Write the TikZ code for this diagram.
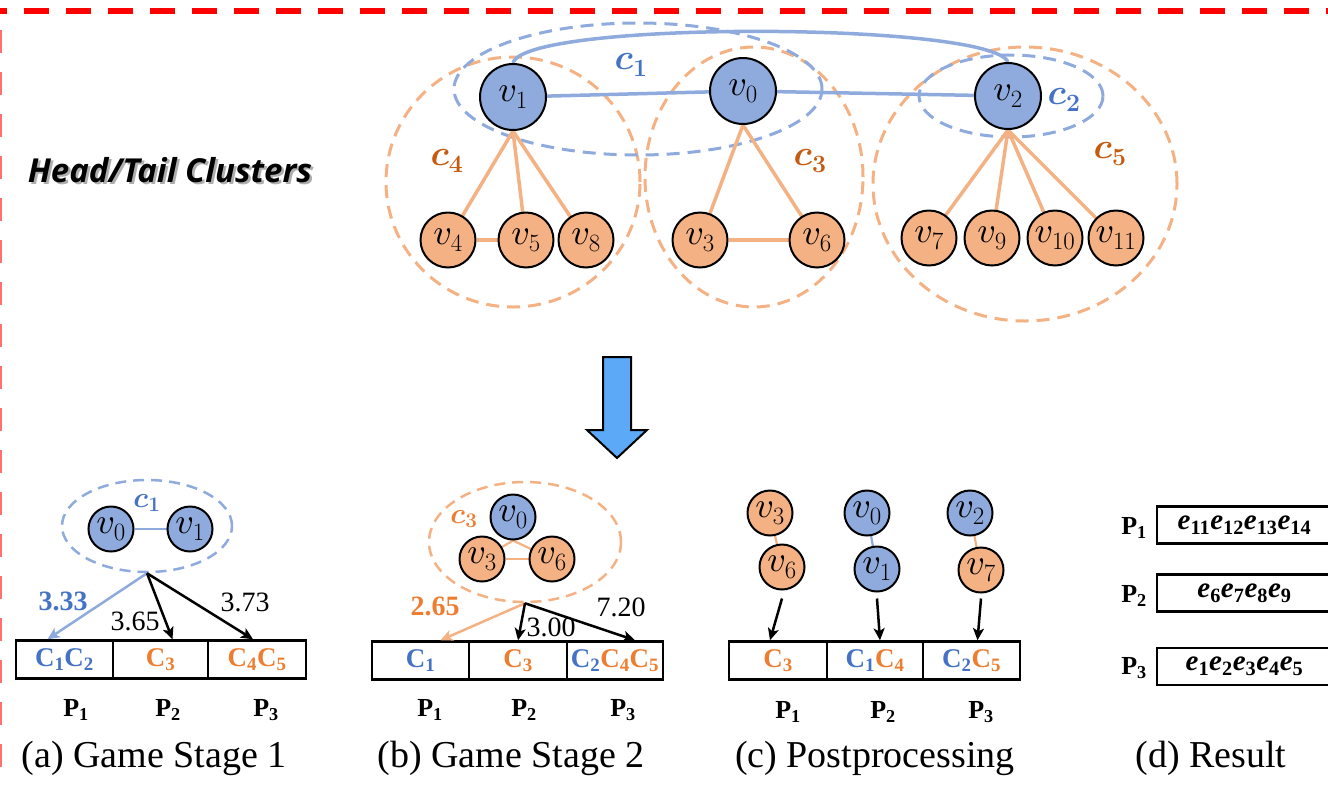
\documentclass[tikz,border=0pt]{standalone}
\usepackage{amsmath}
\usepackage{fontspec}
\setmainfont{Liberation Serif}
\newfontfamily\headfont{Open Sans}
\usetikzlibrary{shapes.geometric,arrows.meta,calc}
% scalable math italic at every size
\DeclareFontShape{OML}{cmm}{m}{it}{<->cmmi10}{}
\DeclareFontShape{OML}{cmm}{b}{it}{<->cmmib10}{}

\definecolor{nblue}{HTML}{8FAADC}
\definecolor{norange}{HTML}{F4B183}
\definecolor{lblue}{HTML}{4472C4}
\definecolor{ldorange}{HTML}{C55A11}
\definecolor{lorange}{HTML}{ED7D31}
\definecolor{bigarrow}{HTML}{5BA9F7}
\definecolor{framered}{HTML}{FF0000}
\definecolor{framelight}{HTML}{FF7070}

\newcommand\vlab[1]{\makebox[0pt]{$v_{#1}$}}
\newcommand\cellC[1]{$\textbf{C}_{\textbf{#1}}$}
\newcommand\eterm[1]{$\textbf{\textit{e}}_{\textbf{#1}}$}
\newcommand\plab[1]{$\textbf{P}_{\textbf{#1}}$}

\pgfdeclarelayer{bg}
\pgfdeclarelayer{mid}
\pgfsetlayers{bg,mid,main}

\tikzset{
  vnode/.style={circle, draw=black, line width=2pt, inner sep=0pt,
    font=\fontsize{36}{42}\selectfont},
  bignode/.style={vnode, minimum size=66pt},
  midnode/.style={vnode, minimum size=55pt},
  smallnode/.style={vnode, minimum size=45pt},
  bfill/.style={fill=nblue},
  ofill/.style={fill=norange},
  bedge/.style={draw=nblue, line width=3.5pt},
  oedge/.style={draw=norange, line width=3.5pt},
  thinb/.style={draw=nblue, line width=2.2pt},
  thino/.style={draw=norange, line width=2.2pt},
  clus/.style={ellipse, inner sep=0pt, line width=3pt, dash pattern=on 13pt off 8pt},
  smallclus/.style={ellipse, inner sep=0pt, line width=2.5pt, dash pattern=on 11pt off 7pt},
  clab/.style={font=\fontsize{36}{42}\selectfont\boldmath},
  sclab/.style={font=\fontsize{29}{34}\selectfont\boldmath},
  cell/.style={rectangle, draw=black, line width=2.5pt, minimum height=38pt,
    inner sep=0pt, font=\fontsize{27}{32}\selectfont},
  rescell/.style={rectangle, draw=black, line width=2.5pt, minimum height=37pt,
    minimum width=175pt, inner sep=0pt, font=\fontsize{29}{34}\selectfont},
  plabel/.style={font=\fontsize{26}{30}\selectfont},
  num/.style={font=\fontsize{28}{32}\selectfont},
  caption/.style={font=\fontsize{38}{44}\selectfont},
  parrow/.style={line width=2.5pt, -{Stealth[length=12pt,width=11pt,inset=3pt]}},
}

\begin{document}
\begin{tikzpicture}[x=1pt,y=-1pt]
\useasboundingbox (0,0) rectangle (1328,785);

% frame lines
\draw[framered, line width=5.5pt, dash pattern=on 25pt off 17pt, dash phase=18pt]
  (0,11) -- (1328,11);
\draw[framelight, line width=2.5pt, dash pattern=on 23pt off 19pt]
  (1,30) -- (1,785);

% title
\node[font=\headfont\fontsize{33}{38}\selectfont\bfseries\itshape, text=black!45, opacity=0.7]
  (titleshadow) at (172.5,172.5) {Head/Tail Clusters};
\node[font=\headfont\fontsize{33}{38}\selectfont\bfseries\itshape]
  (title) at (170,170) {Head/Tail Clusters};

% ---------- upper graph ----------
\node[bignode,bfill] (v1) at (513,97) {\vlab{1}};
\node[bignode,bfill] (v0) at (743,91) {\vlab{0}};
\node[bignode,bfill] (v2) at (1008,96) {\vlab{2}};
\node[midnode,ofill] (v4) at (448,240) {\vlab{4}};
\node[midnode,ofill] (v5) at (526,240) {\vlab{5}};
\node[midnode,ofill] (v8) at (586,240) {\vlab{8}};
\node[midnode,ofill] (v3) at (700,240) {\vlab{3}};
\node[midnode,ofill] (v6) at (817,240) {\vlab{6}};
\node[midnode,ofill] (v7) at (929,238) {\vlab{7}};
\node[midnode,ofill] (v9) at (992,238) {\vlab{9}};
\node[midnode,ofill] (v10) at (1055,238) {\vlab{10}};
\node[midnode,ofill] (v11) at (1116,238) {\vlab{11}};

\begin{pgfonlayer}{bg}
  \node[clus, draw=norange, minimum width=254pt, minimum height=250pt] (c4) at (513,182) {};
  \node[clus, draw=norange, minimum width=218pt, minimum height=260pt] (c3) at (754,177) {};
  \node[clus, draw=norange, minimum width=304pt, minimum height=274pt] (c5) at (1025,184) {};
  \node[clus, draw=nblue, minimum width=368pt, minimum height=132pt] (c1) at (638,89) {};
  \node[clus, draw=nblue, minimum width=184pt, minimum height=82pt] (c2) at (1011,96) {};
\end{pgfonlayer}

\begin{pgfonlayer}{mid}
  \draw[bedge] (v1) -- (v0);
  \draw[bedge] (v0) -- (v2);
  \draw[bedge] (v1.north) .. controls (525,20) and (990,22) .. (v2.north);
  \draw[oedge] (v1.south) -- (v4.center);
  \draw[oedge] (v1.south) -- (v5.center);
  \draw[oedge] (v1.south) -- (v8.center);
  \draw[oedge] (v4) -- (v5);
  \draw[oedge] (v0.south) -- (v3.center);
  \draw[oedge] (v0.south) -- (v6.center);
  \draw[oedge] (v3) -- (v6);
  \draw[oedge] (v2.south) -- (v7.center);
  \draw[oedge] (v2.south) -- (v9.center);
  \draw[oedge] (v2.south) -- (v10.center);
  \draw[oedge] (v2.south) -- (v11.center);
\end{pgfonlayer}

\node[clab, text=lblue] (lc1) at (631,65) {$c_1$};
\node[clab, text=lblue] (lc2) at (1064,100) {$c_2$};
\node[clab, text=ldorange] (lc3) at (810,161) {$c_3$};
\node[clab, text=ldorange] (lc4) at (447,161) {$c_4$};
\node[clab, text=ldorange] (lc5) at (1110,154) {$c_5$};

% ---------- big arrow ----------
\draw[fill=bigarrow, draw=black, line width=2pt, line join=miter]
  (603,357) -- (631,357) -- (631,430) -- (647,430) -- (617,458) -- (587,430) -- (603,430) -- cycle;

% ---------- (a) Game Stage 1 ----------
\node[smallnode,bfill] (a0) at (111,529) {\vlab{0}};
\node[smallnode,bfill] (a1) at (190,529) {\vlab{1}};
\begin{pgfonlayer}{bg}
  \node[smallclus, draw=nblue, minimum width=170pt, minimum height=92pt] (ca) at (147,526) {};
\end{pgfonlayer}
\begin{pgfonlayer}{mid}
  \draw[thinb] (a0) -- (a1);
\end{pgfonlayer}
\node[sclab, text=lblue] (lca) at (147,503) {$c_1$};

\node[cell, minimum width=97pt] (pa1) at (64.5,659.5) {\textcolor{lblue}{\cellC{1}\cellC{2}}};
\node[cell, minimum width=95pt] (pa2) at (160.5,659.5) {\textcolor{lorange}{\cellC{3}}};
\node[cell, minimum width=98pt] (pa3) at (257,659.5) {\textcolor{lorange}{\cellC{4}\cellC{5}}};

\draw[parrow, draw=nblue, color=nblue] (ca.south) -- ([xshift=-17pt]pa1.north);
\draw[parrow] (ca.south) -- ([xshift=12pt]pa2.north);
\draw[parrow] (ca.south) -- ([xshift=-4pt]pa3.north);

\node[num, text=lblue, font=\fontsize{28}{32}\selectfont\bfseries] (na1) at (63,601) {3.33};
\node[num] (na2) at (135,621) {3.65};
\node[num] (na3) at (245,602) {3.73};

\node[plabel] (pla1) at (76,710) {\plab{1}};
\node[plabel] (pla2) at (168,710) {\plab{2}};
\node[plabel] (pla3) at (266,710) {\plab{3}};
\node[caption] (capa) at (154,758) {(a) Game Stage 1};

% ---------- (b) Game Stage 2 ----------
\node[smallnode,bfill] (b0) at (513,517) {\vlab{0}};
\node[smallnode,ofill] (b3) at (482,559) {\vlab{3}};
\node[smallnode,ofill] (b6) at (552,559) {\vlab{6}};
\begin{pgfonlayer}{bg}
  \node[smallclus, draw=norange, minimum width=192pt, minimum height=120pt] (cb) at (525,542) {};
\end{pgfonlayer}
\begin{pgfonlayer}{mid}
  \draw[thino] (b0.south) -- (b3.center);
  \draw[thino] (b0.south) -- (b6.center);
  \draw[thino] (b3) -- (b6);
\end{pgfonlayer}
\node[sclab, text=lorange] (lcb) at (464,519) {$c_3$};

\node[cell, minimum width=97pt] (pb1) at (420.5,660.5) {\textcolor{lblue}{\cellC{1}}};
\node[cell, minimum width=98pt] (pb2) at (518,660.5) {\textcolor{lorange}{\cellC{3}}};
\node[cell, minimum width=96pt] (pb3) at (615,660.5) {\textcolor{lblue}{\cellC{2}}\textcolor{lorange}{\cellC{4}\cellC{5}}};

\draw[parrow, draw=norange, color=norange] (cb.south) -- ([xshift=20pt]pb1.north);
\draw[parrow] (cb.south) -- (pb2.north);
\draw[parrow] (cb.south) -- ([xshift=20pt]pb3.north);

\node[num, text=lorange, font=\fontsize{28}{32}\selectfont\bfseries] (nb1) at (435,606) {2.65};
\node[num] (nb2) at (551,627) {3.00};
\node[num] (nb3) at (621,607) {7.20};

\node[plabel] (plb1) at (430,710) {\plab{1}};
\node[plabel] (plb2) at (524,710) {\plab{2}};
\node[plabel] (plb3) at (623,710) {\plab{3}};
\node[caption] (capb) at (511,758) {(b) Game Stage 2};

% ---------- (c) Postprocessing ----------
\node[smallnode,ofill] (cc3) at (770,513) {\vlab{3}};
\node[smallnode,ofill] (cc6) at (782,567) {\vlab{6}};
\node[smallnode,bfill] (cc0) at (867,513) {\vlab{0}};
\node[smallnode,bfill] (cc1) at (877,569) {\vlab{1}};
\node[smallnode,bfill] (cc2) at (970,513) {\vlab{2}};
\node[smallnode,ofill] (cc7) at (981,570) {\vlab{7}};
\begin{pgfonlayer}{mid}
  \draw[thino] (cc3) -- (cc6);
  \draw[thinb] (cc0) -- (cc1);
  \draw[thino] (cc2) -- (cc7);
\end{pgfonlayer}

\node[cell, minimum width=98pt] (pc1) at (778,660.5) {\textcolor{lorange}{\cellC{3}}};
\node[cell, minimum width=96pt] (pc2) at (875,660.5) {\textcolor{lblue}{\cellC{1}}\textcolor{lorange}{\cellC{4}}};
\node[cell, minimum width=97pt] (pc3) at (971.5,660.5) {\textcolor{lblue}{\cellC{2}}\textcolor{lorange}{\cellC{5}}};

\draw[parrow] ([yshift=-8pt]cc6.south) -- ([xshift=-8pt]pc1.north);
\draw[parrow] ([yshift=-6pt]cc1.south) -- ([xshift=5pt]pc2.north);
\draw[parrow] ([yshift=-5pt]cc7.south) -- ([xshift=6pt]pc3.north);

\node[plabel] (plc1) at (788,712) {\plab{1}};
\node[plabel] (plc2) at (883,712) {\plab{2}};
\node[plabel] (plc3) at (981,712) {\plab{3}};
\node[caption] (capc) at (875,758) {(c) Postprocessing};

% ---------- (d) Result ----------
\node[rescell] (r1) at (1244.5,525) {\eterm{11}\eterm{12}\eterm{13}\eterm{14}};
\node[rescell] (r2) at (1244.5,593) {\eterm{6}\eterm{7}\eterm{8}\eterm{9}};
\node[rescell] (r3) at (1244.5,666.5) {\eterm{1}\eterm{2}\eterm{3}\eterm{4}\eterm{5}};
\node[plabel] (pld1) at (1134,528) {\plab{1}};
\node[plabel] (pld2) at (1134,596) {\plab{2}};
\node[plabel] (pld3) at (1134,668) {\plab{3}};
\node[caption] (capd) at (1211,758) {(d) Result};

\end{tikzpicture}
\end{document}
